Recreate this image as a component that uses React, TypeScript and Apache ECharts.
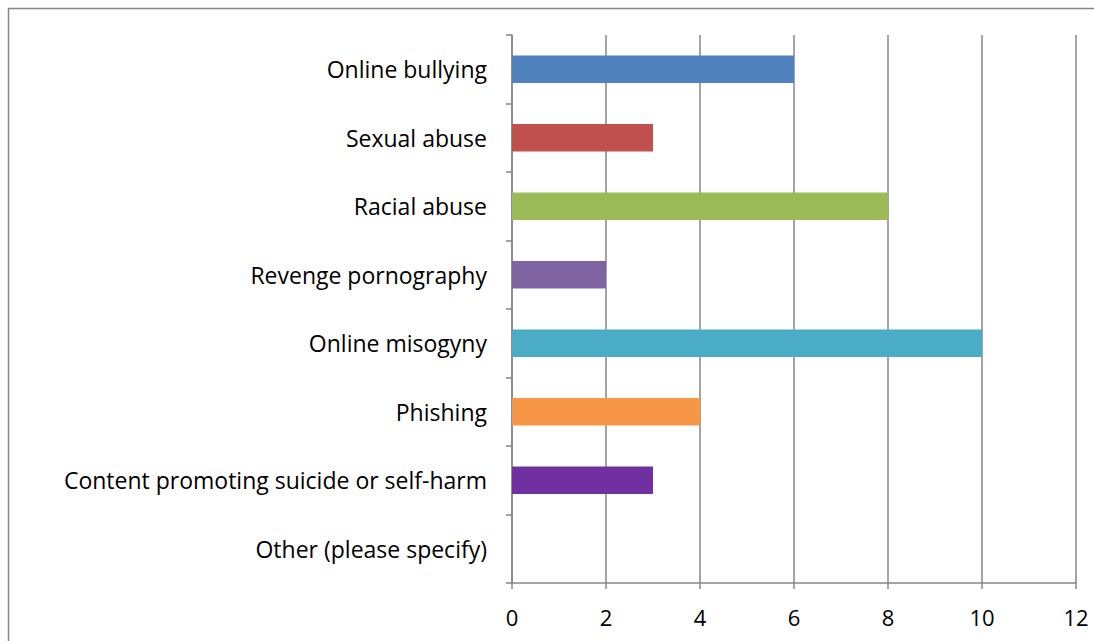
import React, { useEffect, useRef } from "react";
import * as echarts from "echarts";

const categories = [
  "Online bullying",
  "Sexual abuse",
  "Racial abuse",
  "Revenge pornography",
  "Online misogyny",
  "Phishing",
  "Content promoting suicide or self-harm",
  "Other (please specify)",
];
const values = [6, 3, 8, 2, 10, 4, 3, 0];
const colors = ["#4F81BD", "#C0504D", "#9BBB59", "#8064A2", "#4BACC6", "#F79646", "#7030A0", "#4F81BD"];

export default function App() {
  const ref = useRef<HTMLDivElement>(null);
  useEffect(() => {
    const chart = echarts.init(ref.current!, null, { renderer: "svg" });
    const axisColor = "#868686";
    chart.setOption({
      animation: false,
      backgroundColor: "#ffffff",
      textStyle: { fontFamily: "Open Sans" },
      grid: { left: 512, top: 35, right: 18, bottom: 58, containLabel: false },
      graphic: [
        {
          type: "rect",
          shape: { x: 8.5, y: 8.5, width: 1200, height: 800 },
          style: { fill: "none", stroke: axisColor, lineWidth: 1.5 },
          silent: true,
        },
      ],
      xAxis: {
        type: "value",
        min: 0,
        max: 12,
        interval: 2,
        axisLine: { show: true, lineStyle: { color: axisColor, width: 1.5 } },
        axisTick: { show: true, length: 6, lineStyle: { color: axisColor, width: 1.5 } },
        splitLine: { show: true, lineStyle: { color: axisColor, width: 1.5 } },
        axisLabel: { color: "#000", fontSize: 22, margin: 23, fontFamily: "Open Sans" },
      },
      yAxis: {
        type: "category",
        data: categories,
        inverse: true,
        axisLine: { show: true, lineStyle: { color: axisColor, width: 1.5 } },
        axisTick: { show: true, length: 6, lineStyle: { color: axisColor, width: 1.5 } },
        axisLabel: { color: "#000", fontSize: 23, margin: 25, fontFamily: "Open Sans" },
      },
      series: [
        {
          type: "bar",
          data: values.map((v, i) => ({ value: v, itemStyle: { color: colors[i] } })),
          barWidth: "40%",
        },
      ],
    });
    return () => chart.dispose();
  }, []);
  return (
    <div
      ref={ref}
      style={{ position: "fixed", left: 0, top: 0, width: 1094, height: 641 }}
    />
  );
}
